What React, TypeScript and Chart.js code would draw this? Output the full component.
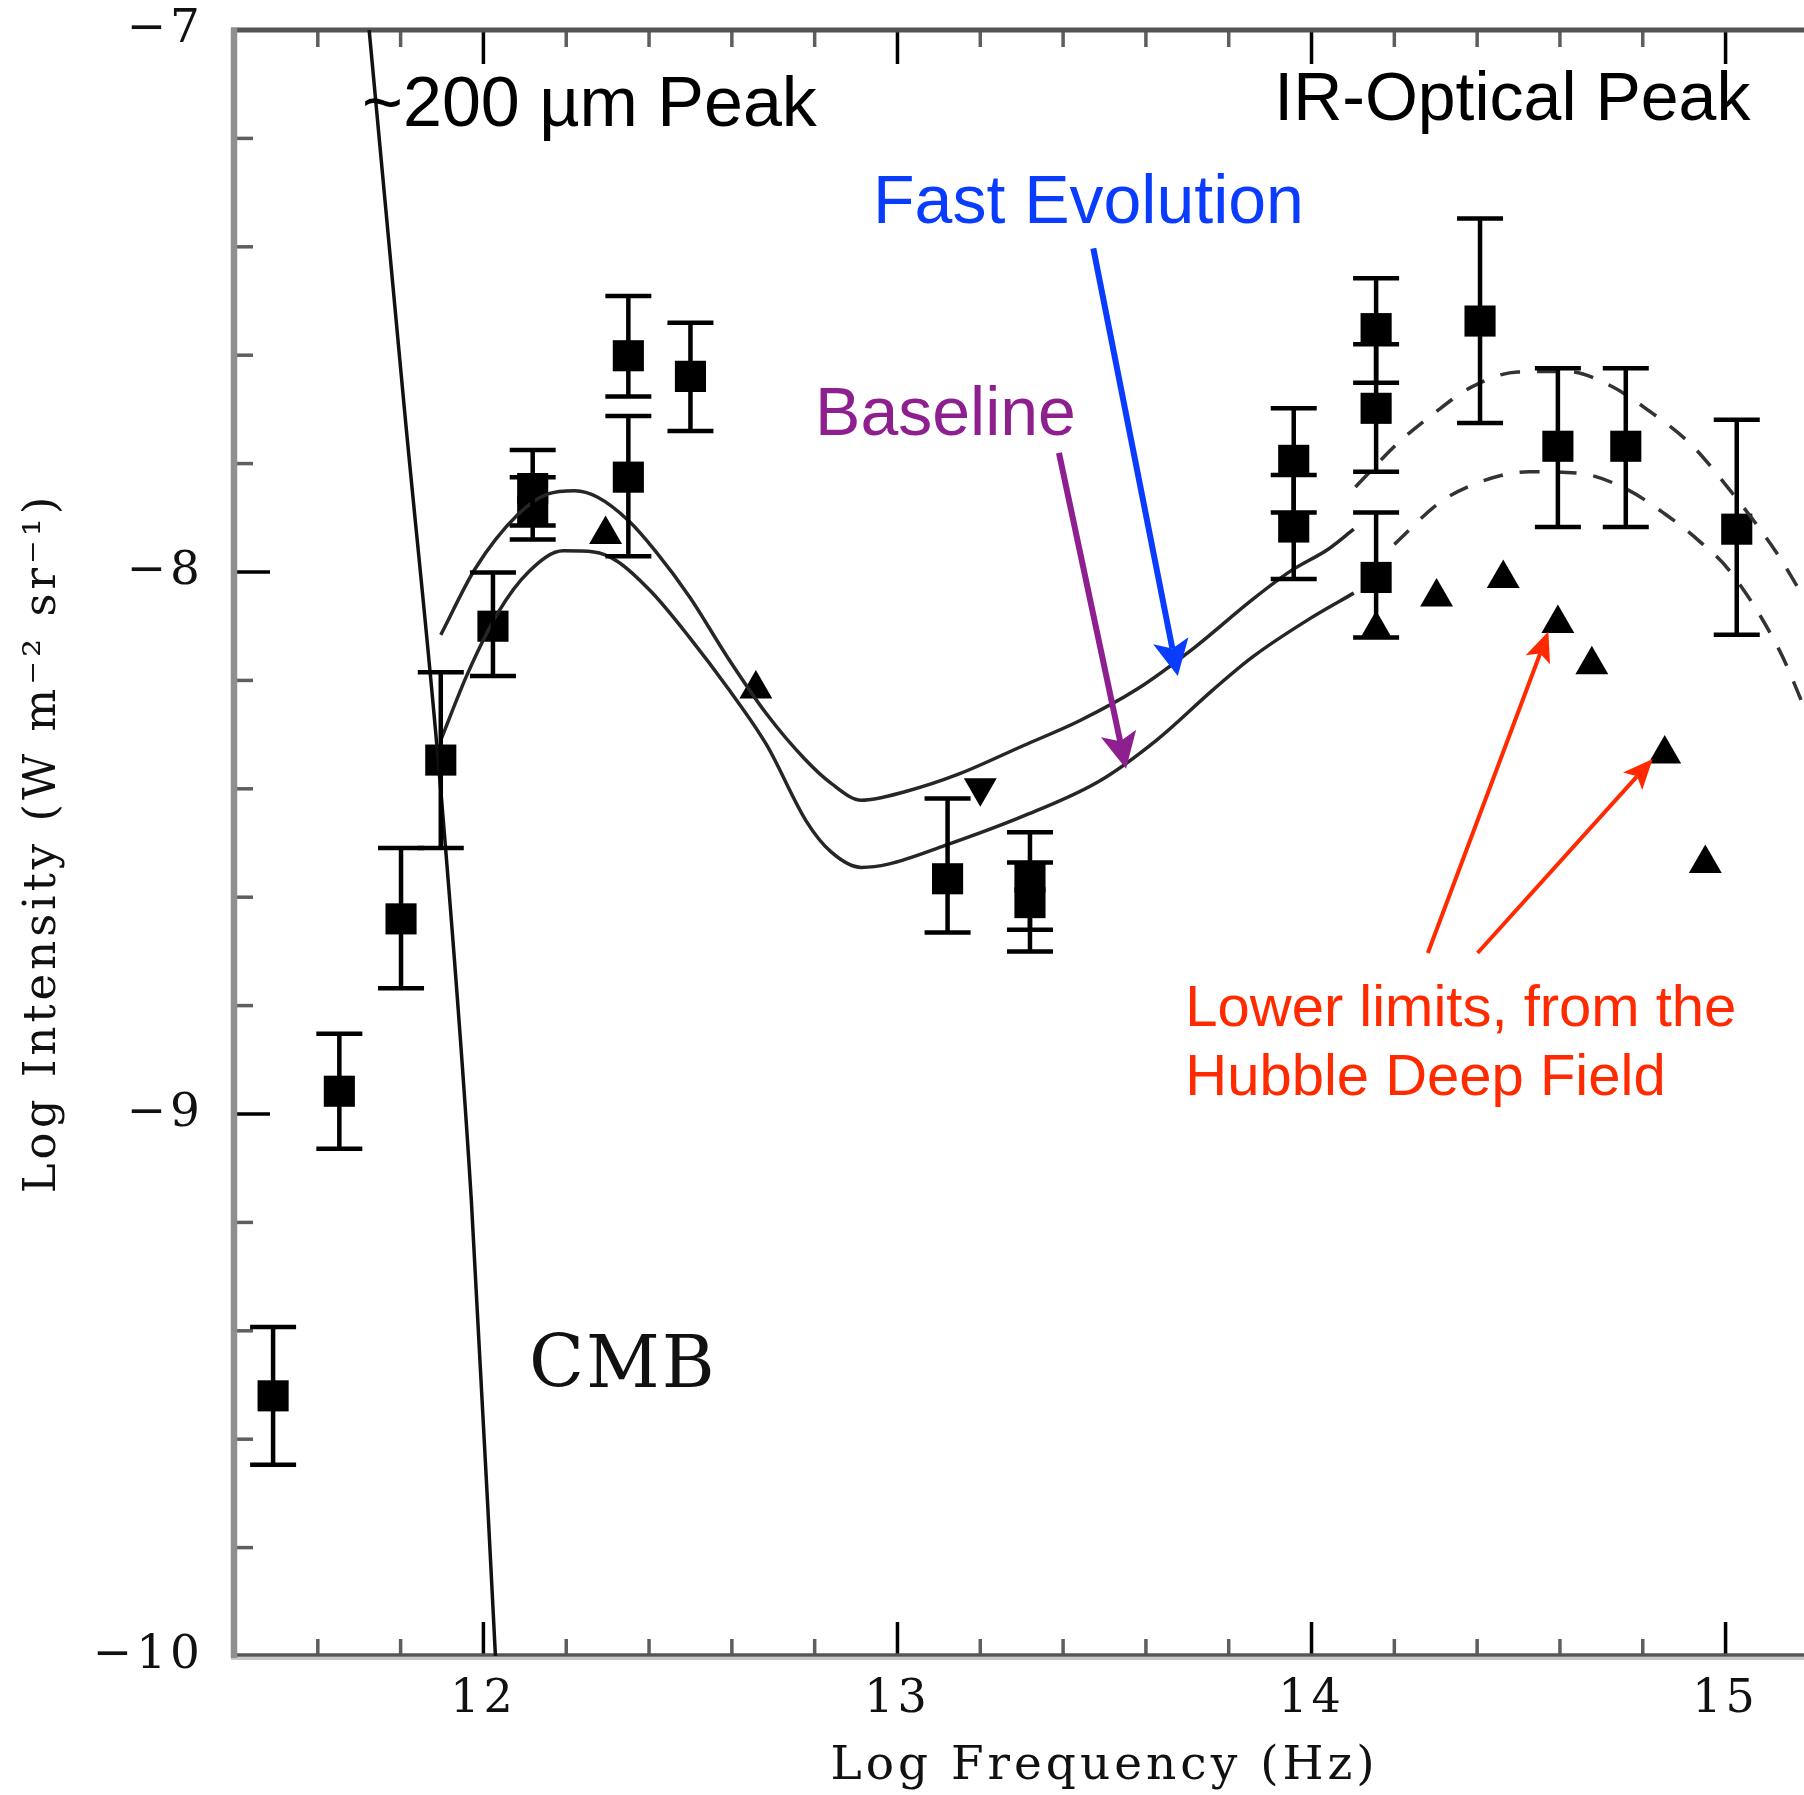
import React, { useEffect, useRef } from 'react';
import { Chart, registerables } from 'chart.js';

Chart.register(...registerables);

// ---------------- axes ----------------
const X_MIN = 11.4;
const X_MAX = 15.6;
const Y_MIN = -10;
const Y_MAX = -7;
const xTickValues = [12, 13, 14, 15];
const xTickLabels = ['12', '13', '14', '15'];
const yTickValues = [-10, -9, -8, -7];
const yTickLabels = ['\u221210', '\u22129', '\u22128', '\u22127'];
const minorStep = 0.2;

// ---------------- CMB curve ----------------
const cmbX = [11.724, 11.809, 11.899, 11.971, 12.029];
const cmbY = [-7.0, -7.698, -8.421, -9.162, -10.0];

// ---------------- model curves (solid) ----------------
const fastX = [11.897, 11.98, 12.082, 12.156, 12.221, 12.276, 12.35, 12.415, 12.498, 12.591, 12.684, 12.776, 12.84, 12.913, 13.024, 13.144, 13.302, 13.441, 13.579, 13.718, 13.857, 13.95, 14.042, 14.102];
const fastY = [-8.116, -7.994, -7.895, -7.856, -7.85, -7.862, -7.905, -7.961, -8.046, -8.159, -8.262, -8.345, -8.39, -8.421, -8.404, -8.374, -8.321, -8.274, -8.216, -8.139, -8.051, -7.998, -7.957, -7.921];

const baseX = [11.897, 11.962, 12.036, 12.11, 12.193, 12.267, 12.323, 12.406, 12.498, 12.591, 12.684, 12.78, 12.839, 12.913, 12.978, 13.117, 13.302, 13.487, 13.626, 13.764, 13.857, 13.996, 14.102];
const baseY = [-8.31, -8.187, -8.074, -7.999, -7.961, -7.963, -7.98, -8.037, -8.121, -8.215, -8.319, -8.46, -8.516, -8.545, -8.539, -8.504, -8.451, -8.386, -8.31, -8.216, -8.157, -8.086, -8.039];

// ---------------- model curves (dashed) ----------------
const fastDashX = [14.106, 14.209, 14.293, 14.386, 14.498, 14.619, 14.721, 14.814, 14.917, 14.982, 15.122, 15.178, 15.21];
const fastDashY = [-7.843, -7.762, -7.709, -7.659, -7.631, -7.63, -7.656, -7.702, -7.765, -7.822, -7.963, -8.033, -8.075];
const baseDashX = [14.2, 14.311, 14.414, 14.526, 14.647, 14.758, 14.852, 14.935, 15.01, 15.131, 15.187, 15.21];
const baseDashY = [-7.949, -7.871, -7.832, -7.815, -7.818, -7.846, -7.892, -7.942, -7.998, -8.146, -8.245, -8.29];

// ---------------- measurements (squares with error bars) ----------------
const sqX = [11.492, 11.652, 11.801, 11.897, 12.023, 12.119, 12.119, 12.35, 12.35, 12.5, 13.121, 13.32, 13.32, 13.957, 13.957, 14.156, 14.156, 14.156, 14.407, 14.595, 14.759, 15.027];
const sqY = [-9.52, -8.958, -8.64, -8.347, -8.1, -7.846, -7.888, -7.601, -7.825, -7.639, -8.566, -8.563, -8.61, -7.794, -7.917, -7.551, -7.698, -8.01, -7.537, -7.768, -7.768, -7.921];
const sqLow = [-9.647, -9.064, -8.768, -8.509, -8.192, -7.914, -7.94, -7.676, -7.971, -7.74, -8.665, -8.66, -8.7, -7.89, -8.013, -7.651, -7.815, -8.121, -7.725, -7.917, -7.917, -8.116];
const sqHigh = [-9.393, -8.852, -8.509, -8.185, -8.001, -7.775, -7.825, -7.491, -7.712, -7.54, -8.418, -8.48, -8.536, -7.698, -7.821, -7.458, -7.58, -7.89, -7.348, -7.624, -7.624, -7.719];

// ---------------- lower limits (up triangles) / upper limit (down triangle) ----------------
const triX = [12.295, 12.658, 14.156, 14.302, 14.463, 14.595, 14.677, 14.853, 14.951];
const triY = [-7.931, -8.216, -8.106, -8.046, -8.012, -8.095, -8.171, -8.336, -8.538];
const downX = [13.2];
const downY = [-8.398];

// ---------------- annotation styling ----------------
const BLUE = '#0a3cff';
const PURPLE = '#8e1f8e';
const RED = '#ff2a00';
const SANS = '"Liberation Sans", Arial, sans-serif';
const SERIF = '"DejaVu Serif", serif';

const textNotes = [
  { text: '~200 \u00b5m Peak', x: 11.707, y: -7.178, color: '#000', font: `70px ${SANS}`, spacing: '0px' },
  { text: 'IR-Optical Peak', x: 13.91, y: -7.166, color: '#000', font: `68px ${SANS}`, spacing: '0px' },
  { text: 'Fast Evolution', x: 12.941, y: -7.356, color: BLUE, font: `68px ${SANS}`, spacing: '0px' },
  { text: 'Baseline', x: 12.801, y: -7.748, color: PURPLE, font: `68px ${SANS}`, spacing: '0px' },
  { text: 'CMB', x: 12.11, y: -9.503, color: '#111', font: `72px ${SERIF}`, spacing: '2px' },
  { text: 'Lower limits, from the', x: 13.695, y: -8.838, color: RED, font: `58px ${SANS}`, spacing: '0px' },
  { text: 'Hubble Deep Field', x: 13.695, y: -8.965, color: RED, font: `58px ${SANS}`, spacing: '0px' },
];

const arrows = [
  { from: [13.473, -7.403], to: [13.677, -8.192], color: BLUE, width: 6, head: 36, half: 18 },
  { from: [13.39, -7.78], to: [13.552, -8.363], color: PURPLE, width: 6, head: 36, half: 18 },
  { from: [14.281, -8.703], to: [14.572, -8.11], color: RED, width: 4, head: 30, half: 13 },
  { from: [14.401, -8.703], to: [14.824, -8.345], color: RED, width: 4, head: 30, half: 13 },
];

function pts(xs: number[], ys: number[]) {
  return xs.map((x, i) => ({ x, y: ys[i] }));
}

function drawArrow(ctx: CanvasRenderingContext2D, x1: number, y1: number, x2: number, y2: number, color: string, lw: number, headLen: number, half: number) {
  const ang = Math.atan2(y2 - y1, x2 - x1);
  const c = Math.cos(ang);
  const s = Math.sin(ang);
  const bx = x2 - headLen * c;
  const by = y2 - headLen * s;
  const nx = x2 - headLen * 0.78 * c;
  const ny = y2 - headLen * 0.78 * s;
  ctx.strokeStyle = color;
  ctx.lineWidth = lw;
  ctx.lineCap = 'butt';
  ctx.beginPath();
  ctx.moveTo(x1, y1);
  ctx.lineTo(nx, ny);
  ctx.stroke();
  ctx.fillStyle = color;
  ctx.beginPath();
  ctx.moveTo(x2, y2);
  ctx.lineTo(bx + half * s, by - half * c);
  ctx.lineTo(nx, ny);
  ctx.lineTo(bx - half * s, by + half * c);
  ctx.closePath();
  ctx.fill();
}

const overlayPlugin = {
  id: 'overlay',
  beforeDraw(chart: any) {
    (chart.ctx as any).letterSpacing = '4px';
  },
  beforeDatasetsDraw(chart: any) {
    const ctx: CanvasRenderingContext2D = chart.ctx;
    (ctx as any).letterSpacing = '0px';
    const { left, right, top, bottom } = chart.chartArea;
    const xs = chart.scales.x;
    const ys = chart.scales.y;
    ctx.save();
    ctx.lineCap = 'butt';
    // x ticks (top & bottom, pointing inward)
    const nx = Math.round((X_MAX - X_MIN) / minorStep);
    for (let i = 1; i < nx; i++) {
      const v = X_MIN + i * minorStep;
      const major = Math.abs(v - Math.round(v)) < 1e-6;
      const px = xs.getPixelForValue(v);
      const len = major ? 34 : 17;
      ctx.strokeStyle = major ? '#000' : '#5e5e5e';
      ctx.lineWidth = 3.5;
      ctx.beginPath();
      ctx.moveTo(px, top);
      ctx.lineTo(px, top + len);
      ctx.moveTo(px, bottom);
      ctx.lineTo(px, bottom - len);
      ctx.stroke();
    }
    // y ticks (left, inward)
    const ny = Math.round((Y_MAX - Y_MIN) / minorStep);
    for (let i = 1; i < ny; i++) {
      const v = Y_MIN + i * minorStep;
      const major = Math.abs(v - Math.round(v)) < 1e-6;
      const py = ys.getPixelForValue(v);
      const len = major ? 35 : 18;
      ctx.strokeStyle = major ? '#000' : '#5e5e5e';
      ctx.lineWidth = 3.5;
      ctx.beginPath();
      ctx.moveTo(left, py);
      ctx.lineTo(left + len, py);
      ctx.stroke();
    }
    // axis lines
    ctx.strokeStyle = '#555';
    ctx.lineWidth = 5;
    ctx.beginPath();
    ctx.moveTo(left - 4, top);
    ctx.lineTo(right, top);
    ctx.stroke();
    ctx.lineWidth = 3.5;
    ctx.beginPath();
    ctx.moveTo(left - 4, bottom - 1);
    ctx.lineTo(right, bottom - 1);
    ctx.stroke();
    ctx.strokeStyle = '#c8c8c8';
    ctx.lineWidth = 3;
    ctx.beginPath();
    ctx.moveTo(left - 4, bottom + 2.5);
    ctx.lineTo(right, bottom + 2.5);
    ctx.stroke();
    ctx.strokeStyle = '#8f8f8f';
    ctx.lineWidth = 6.5;
    ctx.beginPath();
    ctx.moveTo(left - 1, top - 2);
    ctx.lineTo(left - 1, bottom + 2);
    ctx.stroke();
    ctx.restore();
  },
  afterDatasetsDraw(chart: any) {
    const ctx: CanvasRenderingContext2D = chart.ctx;
    const xs = chart.scales.x;
    const ys = chart.scales.y;
    ctx.save();
    ctx.strokeStyle = '#000';
    ctx.lineWidth = 4.5;
    ctx.lineCap = 'butt';
    for (let i = 0; i < sqX.length; i++) {
      const px = xs.getPixelForValue(sqX[i]);
      const lo = ys.getPixelForValue(sqLow[i]);
      const hi = ys.getPixelForValue(sqHigh[i]);
      ctx.beginPath();
      ctx.moveTo(px, lo);
      ctx.lineTo(px, hi);
      ctx.moveTo(px - 23, lo);
      ctx.lineTo(px + 23, lo);
      ctx.moveTo(px - 23, hi);
      ctx.lineTo(px + 23, hi);
      ctx.stroke();
    }
    ctx.restore();
  },
  afterDraw(chart: any) {
    const ctx: CanvasRenderingContext2D = chart.ctx;
    const xs = chart.scales.x;
    const ys = chart.scales.y;
    ctx.save();
    for (const a of arrows) {
      drawArrow(
        ctx,
        xs.getPixelForValue(a.from[0]), ys.getPixelForValue(a.from[1]),
        xs.getPixelForValue(a.to[0]), ys.getPixelForValue(a.to[1]),
        a.color, a.width, a.head, a.half,
      );
    }
    ctx.textAlign = 'left';
    ctx.textBaseline = 'alphabetic';
    for (const t of textNotes) {
      (ctx as any).letterSpacing = t.spacing;
      ctx.font = t.font;
      ctx.fillStyle = t.color;
      ctx.fillText(t.text, xs.getPixelForValue(t.x), ys.getPixelForValue(t.y));
    }
    ctx.restore();
    (ctx as any).letterSpacing = '0px';
  },
};

const CANVAS_W = 2000;
const CANVAS_H = 1795;

export default function App() {
  const ref = useRef<HTMLCanvasElement>(null);

  useEffect(() => {
    const canvas = ref.current;
    if (!canvas) return;
    const lineBase = {
      type: 'scatter' as const,
      showLine: true,
      pointRadius: 0,
      pointHoverRadius: 0,
      fill: false,
      cubicInterpolationMode: 'monotone' as const,
    };
    const chart = new Chart(canvas, {
      type: 'scatter',
      data: {
        datasets: [
          { ...lineBase, label: 'CMB', data: pts(cmbX, cmbY), borderColor: '#111', borderWidth: 3.5 },
          { ...lineBase, label: 'Fast Evolution', data: pts(fastX, fastY), borderColor: '#262626', borderWidth: 3.5 },
          { ...lineBase, label: 'Baseline', data: pts(baseX, baseY), borderColor: '#262626', borderWidth: 3.5 },
          { ...lineBase, label: 'Fast Evolution (ext.)', data: pts(fastDashX, fastDashY), borderColor: '#333', borderWidth: 3.5, borderDash: [20, 17] },
          { ...lineBase, label: 'Baseline (ext.)', data: pts(baseDashX, baseDashY), borderColor: '#333', borderWidth: 3.5, borderDash: [20, 17] },
          {
            label: 'Measurements', data: pts(sqX, sqY), pointStyle: 'rect', pointRadius: 22,
            backgroundColor: '#000', borderColor: '#000', borderWidth: 0, showLine: false,
          },
          {
            label: 'Lower limits (HDF)', data: pts(triX, triY), pointStyle: 'triangle', pointRadius: 19,
            backgroundColor: '#000', borderColor: '#000', borderWidth: 0, showLine: false,
          },
          {
            label: 'Upper limit', data: pts(downX, downY), pointStyle: 'triangle', pointRadius: 19, pointRotation: 180,
            backgroundColor: '#000', borderColor: '#000', borderWidth: 0, showLine: false,
          },
        ],
      },
      options: {
        animation: false,
        responsive: false,
        devicePixelRatio: 1,
        events: [],
        layout: { padding: { left: 0, top: 30, right: 26, bottom: 0 } },
        plugins: {
          legend: { display: false },
          tooltip: { enabled: false },
        },
        scales: {
          x: {
            type: 'linear',
            position: 'bottom',
            min: X_MIN,
            max: X_MAX,
            grid: { display: false, drawTicks: false },
            border: { display: false },
            afterBuildTicks: (scale: any) => {
              scale.ticks = xTickValues.map((v) => ({ value: v }));
            },
            afterFit: (scale: any) => {
              scale.height = CANVAS_H - 1656;
              scale.paddingLeft = 0;
              scale.paddingRight = 0;
            },
            ticks: {
              autoSkip: false,
              maxRotation: 0,
              padding: 16,
              color: '#111',
              font: { family: '"DejaVu Serif", serif', size: 46, lineHeight: 1.2 },
              callback: (_v: any, i: number) => xTickLabels[i],
            },
            title: {
              display: true,
              text: 'Log Frequency (Hz)',
              color: '#111',
              font: { family: '"DejaVu Serif", serif', size: 47, lineHeight: 1.2 },
              padding: { top: 0, bottom: 0 },
            },
          },
          y: {
            type: 'linear',
            position: 'left',
            min: Y_MIN,
            max: Y_MAX,
            grid: { display: false, drawTicks: false },
            border: { display: false },
            afterBuildTicks: (scale: any) => {
              scale.ticks = yTickValues.map((v) => ({ value: v }));
            },
            afterFit: (scale: any) => {
              scale.width = 235;
              scale.paddingTop = 0;
              scale.paddingBottom = 0;
            },
            ticks: {
              autoSkip: false,
              padding: 31,
              color: '#111',
              font: { family: '"DejaVu Serif", serif', size: 47, lineHeight: 1.2 },
              callback: (_v: any, i: number) => yTickLabels[i],
            },
            title: {
              display: true,
              text: 'Log Intensity (W m\u207b\u00b2 sr\u207b\u00b9)',
              color: '#111',
              font: { family: '"DejaVu Serif", serif', size: 45, lineHeight: 1.2 },
              padding: { top: 16, bottom: 0 },
            },
          },
        },
      },
      plugins: [overlayPlugin],
    } as any);
    return () => chart.destroy();
  }, []);

  return (
    <div
      style={{
        position: 'fixed',
        left: 0,
        top: 0,
        width: 1804,
        height: 1795,
        overflow: 'hidden',
        background: '#fff',
      }}
    >
      <canvas ref={ref} width={CANVAS_W} height={CANVAS_H} style={{ display: 'block', width: CANVAS_W, height: CANVAS_H }} />
    </div>
  );
}
